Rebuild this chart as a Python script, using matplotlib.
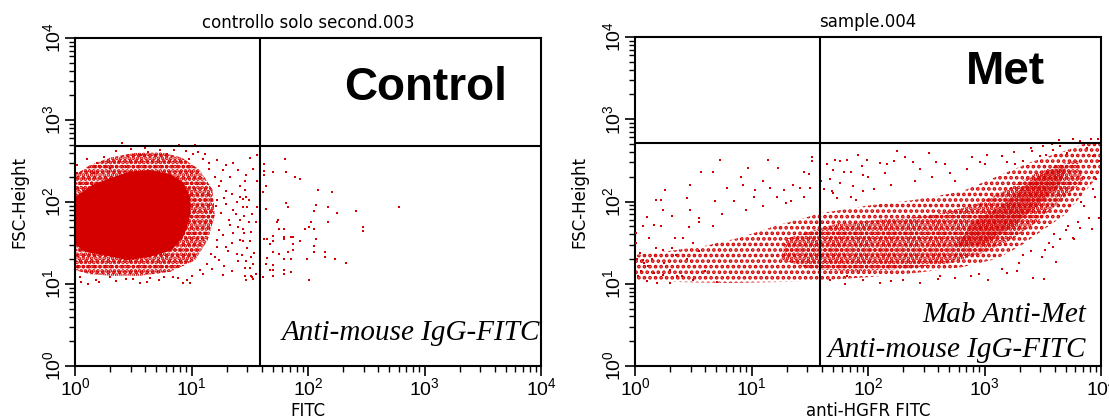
import numpy as np
import matplotlib
matplotlib.use("Agg")
import matplotlib.pyplot as plt

plt.rcParams['font.family'] = ['Liberation Sans', 'DejaVu Sans']
plt.rcParams['hatch.linewidth'] = 1.8

RED = "#d40000"

# panel titles, axis labels, annotations
titles = ["controllo solo second.003", "sample.004"]
xlabels = ["FITC", "anti-HGFR FITC"]
ylabel = "FSC-Height"
big_labels = ["Control", "Met"]
notes = [["Anti-mouse IgG-FITC"], ["Mab Anti-Met", "Anti-mouse IgG-FITC"]]

# quadrant gates (FITC, FSC)
gate_x = [39, 39]
gate_y = [480, 510]

# all event positions below are in decades (log10 of the channel value)

# ---- Control: outline of the solid core and of the dense speckled zone
ctrl_core_x = [0, 0.15, 0.30, 0.47, 0.64, 0.82, 0.93, 0.99, 0.99, 0.94, 0.83, 0.64, 0.45, 0.26, 0.09, 0]
ctrl_core_y = [2.06, 2.21, 2.29, 2.37, 2.39, 2.34, 2.24, 2.06, 1.84, 1.60, 1.41, 1.33, 1.29, 1.35, 1.39, 1.48]
ctrl_mid_x = [0, 0.13, 0.30, 0.52, 0.73, 0.92, 1.07, 1.18, 1.20, 1.14, 1.03, 0.82, 0.56, 0.30, 0.13, 0]
ctrl_mid_y = [2.33, 2.45, 2.54, 2.60, 2.61, 2.54, 2.39, 2.15, 1.84, 1.54, 1.29, 1.15, 1.10, 1.10, 1.12, 1.17]

# Control: scattered events
ctrl_x = [1.80, 1.62, 1.62, 1.62, 1.70, 1.81, 1.89, 1.93, 1.64, 2.09, 2.21, 1.61, 1.81, 1.83, 2.07,
          2.17, 2.05, 2.25, 2.41, 2.78, 1.64, 1.74, 1.73, 2.03, 2.17, 1.75, 1.79, 1.97, 2.01, 2.05,
          2.47, 2.47, 1.70, 1.79, 1.79, 1.85, 1.87, 1.62, 1.65, 1.70, 1.67, 1.87, 1.93, 2.07, 2.05,
          1.87, 1.83, 1.70, 2.05, 2.15, 2.15, 1.75, 1.79, 1.85, 1.99, 2.23, 2.33, 1.65, 1.64, 1.70,
          1.67, 1.70, 1.79, 1.79, 1.85, 1.70, 2.01, 1.61,
          1.50, 1.56, 1.47, 1.46, 1.56, 1.46, 1.47, 1.44, 1.49, 1.44, 1.48, 1.56, 1.45, 1.49, 1.55,
          1.44, 1.51, 1.44, 1.50, 1.48, 1.54, 1.43, 1.51, 1.47, 1.53, 1.46, 1.50, 1.55, 1.46, 1.51,
          1.47, 1.53,
          0.40, 0.89, 1.03, 0.57, 0.63, 0.73, 0.79, 0.95, 1.01, 1.06, 1.12, 1.22, 1.36, 1.27, 1.40,
          0.19, 0.21, 0.16, 0.02, 0.02, 0.30, 0.44, 0.40, 1.24, 1.30, 1.39, 1.42, 1.22, 1.36, 1.32,
          1.42, 1.24, 1.36, 1.22, 1.42, 1.30, 1.17, 1.39, 1.24, 1.13, 1.52, 1.27, 1.07, 0.96, 0.93,
          0.99, 0.56, 0.76, 0.30, 0.11, 0.21, 0.44, 0.64, 0.84, 0.04, 0.03,
          1.20, 1.25, 1.33, 1.28, 1.35, 1.21, 1.30, 1.38, 1.25, 1.33, 1.40, 1.27, 1.35, 1.22, 1.31,
          1.40, 1.20, 1.28, 1.35, 1.18, 1.45, 1.52, 1.42, 1.53, 1.30, 1.15, 1.10,
          0.10, 0.25, 0.35, 0.48, 0.60, 0.85, 0.98, 1.15,
          0.05, 0.18, 0.35, 0.50, 0.62, 0.72, 0.88, 1.00, 1.10]
ctrl_y = [2.52, 2.46, 2.38, 2.33, 2.36, 2.36, 2.30, 2.28, 2.20, 2.15, 2.12, 2.12, 1.99, 1.94, 1.96,
          1.94, 1.89, 1.86, 1.89, 1.94, 1.91, 1.78, 1.75, 1.76, 1.76, 1.67, 1.67, 1.67, 1.70, 1.67,
          1.70, 1.65, 1.59, 1.57, 1.55, 1.57, 1.57, 1.55, 1.55, 1.52, 1.49, 1.49, 1.52, 1.55, 1.46,
          1.41, 1.39, 1.39, 1.39, 1.39, 1.33, 1.36, 1.31, 1.31, 1.31, 1.31, 1.26, 1.32, 1.25, 1.23,
          1.17, 1.17, 1.17, 1.12, 1.15, 1.10, 1.05, 1.08,
          2.54, 2.57, 2.33, 2.25, 2.25, 2.15, 2.06, 2.04, 2.03, 1.94, 1.94, 1.94, 1.83, 1.76, 1.76,
          1.67, 1.63, 1.53, 1.52, 1.44, 1.38, 1.35, 1.33, 1.28, 1.25, 1.20, 1.20, 1.12, 1.10, 1.10,
          1.05, 1.06,
          2.72, 2.70, 2.70, 2.57, 2.61, 2.64, 2.59, 2.62, 2.59, 2.61, 2.59, 2.51, 2.48, 2.39, 2.39,
          2.47, 2.44, 2.35, 2.45, 2.35, 2.41, 2.43, 2.33, 2.19, 2.13, 2.00, 2.06, 2.02, 1.90, 1.78,
          1.78, 1.66, 1.62, 1.54, 1.54, 1.45, 1.37, 1.37, 1.29, 1.25, 1.09, 1.11, 1.17, 1.05, 1.01,
          1.01, 1.01, 1.09, 1.09, 1.00, 1.03, 1.06, 1.07, 1.09, 1.09, 1.21,
          2.30, 2.25, 2.31, 2.05, 2.10, 1.95, 1.98, 1.85, 1.86, 1.72, 1.70, 1.60, 1.50, 1.45, 1.40,
          1.28, 1.33, 1.22, 1.16, 1.18, 1.62, 1.85, 2.20, 2.40, 2.45, 2.48, 2.53,
          2.52, 2.55, 2.62, 2.65, 2.66, 2.64, 2.52, 2.40,
          1.02, 1.05, 1.04, 1.06, 1.02, 1.05, 1.07, 1.10, 1.12]

# ---- Met: outline of the speckled band, its dense part and its hottest part
met_band_x = [0.0, 0.3, 0.6, 0.9, 1.2, 1.6, 2.0, 2.4, 2.8, 3.1, 3.4, 3.7, 3.85, 4.0,
              4.0, 3.85, 3.7, 3.5, 3.3, 3.1, 2.8, 2.4, 2.0, 1.6, 1.2, 0.8, 0.4, 0.0]
met_band_y = [1.35, 1.40, 1.46, 1.56, 1.70, 1.86, 1.95, 2.02, 2.12, 2.30, 2.48, 2.62, 2.70, 2.70,
              2.35, 2.10, 1.85, 1.65, 1.45, 1.30, 1.20, 1.13, 1.08, 1.04, 1.02, 1.01, 1.02, 1.05]
met_core_x = [1.3, 1.7, 2.1, 2.5, 2.9, 3.2, 3.45, 3.65, 3.8,
              3.85, 3.65, 3.45, 3.25, 3.0, 2.7, 2.3, 1.9, 1.5, 1.25]
met_core_y = [1.55, 1.72, 1.78, 1.82, 1.95, 2.15, 2.35, 2.45, 2.50,
              2.25, 2.00, 1.75, 1.55, 1.38, 1.25, 1.18, 1.15, 1.18, 1.30]
met_hot_x = [2.9, 3.15, 3.35, 3.55, 3.7, 3.65, 3.45, 3.25, 3.0, 2.75]
met_hot_y = [1.75, 1.95, 2.2, 2.38, 2.42, 2.2, 1.95, 1.7, 1.48, 1.45]

# Met: scattered events
met_x = [0.73, 0.57, 0.67, 0.97, 1.14, 1.23, 1.52, 1.52, 0.91, 1.10, 1.45, 1.49, 0.47, 0.79, 0.26,
         0.93, 1.03, 1.16, 1.28, 1.36, 1.42, 1.50, 0.18, 0.22, 0.45, 0.69, 0.85, 1.02, 1.22, 1.34,
         0.24, 0.32, 0.47, 0.55, 0.10, 0.07, 0.16, 0.22, 0.46, 0.67, 0.01, 0.12, 0.34, 0.41, 0.50,
         0.01, 0.18, 0.24, 0.32, 0.07, 0.11, 0.16, 0.24, 0.30, 0.36, 0.03, 0.10, 0.19, 0.30, 0.04,
         1.65, 1.72, 1.76, 1.82, 1.91, 1.70, 1.79, 1.85, 1.95, 1.96, 1.67, 1.76, 1.62, 1.69, 1.87,
         1.96, 1.73, 1.90, 1.67, 1.82, 1.96,
         1.99, 2.10, 2.16, 2.22, 2.32, 2.39, 2.52, 2.58, 2.66, 2.25, 2.89, 2.96, 3.02, 3.19, 3.26,
         3.33, 3.41, 3.48, 3.53, 3.59, 3.65, 3.71, 3.76, 3.82, 3.91, 3.97, 3.58, 3.64, 3.88, 3.93,
         3.98, 3.93, 3.96, 3.83, 3.90, 3.82, 3.72, 3.76, 3.65, 3.59, 3.52, 3.49, 3.42, 3.33, 3.28,
         3.19, 3.03, 2.88, 2.75, 2.62, 2.45, 2.30, 2.10, 3.51, 3.61, 3.98, 3.77, 3.92,
         0.55, 0.75, 0.95, 1.10, 1.30, 1.45, 1.70, 1.85, 2.05, 2.20, 2.40, 2.55, 2.70, 2.85, 3.00,
         3.15, 3.25, 3.40, 3.50, 2.15, 2.45, 2.75, 1.60, 2.00,
         3.40, 3.55, 3.70, 3.80, 3.95, 3.30, 3.15, 2.95, 2.60, 2.20, 1.80, 3.60, 3.85,
         0.05, 0.08, 0.02, 0.15, 0.25, 0.35, 0.45, 0.55, 0.40, 0.50, 0.60, 0.70]
met_y = [2.51, 2.36, 2.36, 2.41, 2.51, 2.41, 2.54, 2.49, 2.30, 2.25, 2.36, 2.34, 2.20, 2.17, 2.14,
         2.20, 2.14, 2.17, 2.14, 2.20, 2.17, 2.17, 2.02, 2.02, 2.04, 2.01, 2.01, 2.06, 2.06, 2.01,
         1.90, 1.82, 1.90, 1.80, 1.81, 1.70, 1.71, 1.70, 1.69, 1.70, 1.62, 1.56, 1.56, 1.56, 1.50,
         1.50, 1.44, 1.41, 1.44, 1.29, 1.21, 1.13, 1.11, 1.17, 1.09, 1.09, 1.03, 1.01, 1.01, 1.37,
         2.46, 2.51, 2.49, 2.51, 2.57, 2.38, 2.36, 2.36, 2.43, 2.32, 2.27, 2.23, 2.15, 2.13, 2.19,
         2.13, 2.04, 2.02, 1.05, 1.09, 1.05,
         2.51, 2.47, 2.45, 2.49, 2.54, 2.48, 2.59, 2.48, 2.46, 2.61, 2.54, 2.48, 2.57, 2.48, 2.46,
         2.49, 2.61, 2.55, 2.57, 2.63, 2.67, 2.59, 2.76, 2.73, 2.76, 2.76, 2.70, 2.75, 2.65, 2.55,
         2.49, 2.15, 2.27, 2.00, 1.80, 1.68, 1.70, 1.56, 1.54, 1.45, 1.41, 1.33, 1.07, 1.35, 1.15,
         1.13, 1.05, 1.09, 1.07, 1.09, 1.01, 1.05, 1.01, 1.06, 1.26, 1.80, 1.54, 1.66,
         1.75, 1.85, 1.90, 1.95, 1.98, 2.05, 2.10, 2.05, 2.15, 2.20, 2.25, 2.30, 2.35, 2.40, 2.45,
         2.55, 2.60, 2.65, 2.68, 2.35, 2.40, 2.25, 2.25, 2.30,
         1.40, 1.50, 1.65, 1.75, 2.05, 1.25, 1.18, 1.12, 1.06, 1.03, 1.00, 1.60, 1.95,
         1.15, 1.25, 1.30, 1.30, 1.25, 1.35, 1.30, 1.40, 1.10, 1.05, 1.15, 1.02]


def dec(v):
    return 10 ** np.asarray(v, dtype=float)


def setup_axes(ax, title, xlabel):
    ax.set_xscale("log")
    ax.set_yscale("log")
    ax.set_xlim(1, 1e4)
    ax.set_ylim(1, 1e4)
    ticks = [1, 10, 100, 1000, 10000]
    labs = [r"$\mathregular{10^{%d}}$" % k for k in range(5)]
    ax.set_xticks(ticks)
    ax.set_xticklabels(labs, fontsize=14)
    ax.set_yticks(ticks)
    ax.set_yticklabels(labs, fontsize=14, rotation=90, va="center")
    ax.tick_params(which="major", direction="out", length=7, width=1.2, pad=1)
    ax.tick_params(which="minor", direction="out", length=4, width=1.0)
    for s in ax.spines.values():
        s.set_linewidth(1.5)
    ax.set_title(title, fontsize=12, pad=7, family="DejaVu Sans")
    ax.set_xlabel(xlabel, fontsize=12, family="DejaVu Sans")
    ax.xaxis.set_label_coords(0.5, -0.11)
    ax.set_ylabel(ylabel, fontsize=12, family="DejaVu Sans")
    ax.yaxis.set_label_coords(-0.10, 0.5)


fig = plt.figure(figsize=(11.09, 4.19), dpi=100)
ax1 = fig.add_axes([75 / 1109, 53 / 419, 466 / 1109, 328 / 419])
ax2 = fig.add_axes([635 / 1109, 53 / 419, 466 / 1109, 329 / 419])

# Control: dense zone as overlaid dot hatches, solid core on top
ax1.fill(dec(ctrl_mid_x), dec(ctrl_mid_y), facecolor="none", edgecolor=RED,
         hatch="...", linewidth=0, zorder=1)
ax1.fill(dec(ctrl_mid_x), dec(ctrl_mid_y), facecolor="none", edgecolor=RED,
         hatch="....", linewidth=0, zorder=1)
ax1.fill(dec(ctrl_core_x), dec(ctrl_core_y), facecolor=RED, edgecolor=RED, linewidth=0, zorder=2)
ax1.scatter(dec(ctrl_x), dec(ctrl_y), s=3.5, marker="s", c=RED, linewidths=0, zorder=3)

# Met
ax2.fill(dec(met_band_x), dec(met_band_y), facecolor="none", edgecolor=RED,
         hatch="...", linewidth=0, zorder=1)
ax2.fill(dec(met_core_x), dec(met_core_y), facecolor="none", edgecolor=RED,
         hatch="....", linewidth=0, zorder=2)
ax2.fill(dec(met_hot_x), dec(met_hot_y), facecolor="none", edgecolor=RED,
         hatch=".....", linewidth=0, zorder=2)
ax2.scatter(dec(met_x), dec(met_y), s=3.5, marker="s", c=RED, linewidths=0, zorder=3)

for i, ax in enumerate([ax1, ax2]):
    setup_axes(ax, titles[i], xlabels[i])
    ax.axvline(gate_x[i], color="black", lw=1.5, zorder=4)
    ax.axhline(gate_y[i], color="black", lw=1.5, zorder=4)

ax1.text(0.927, 0.848, big_labels[0], transform=ax1.transAxes, fontsize=33,
         fontweight="bold", ha="right", va="center")
ax2.text(0.88, 0.893, big_labels[1], transform=ax2.transAxes, fontsize=33,
         fontweight="bold", ha="right", va="center")

ax1.text(0.997, 0.100, notes[0][0], transform=ax1.transAxes, fontsize=21,
         family="Liberation Serif", style="italic", ha="right", va="center")
ax2.text(0.968, 0.155, notes[1][0], transform=ax2.transAxes, fontsize=21,
         family="Liberation Serif", style="italic", ha="right", va="center")
ax2.text(0.968, 0.050, notes[1][1], transform=ax2.transAxes, fontsize=21,
         family="Liberation Serif", style="italic", ha="right", va="center")

fig.savefig("out.png", dpi=100)
